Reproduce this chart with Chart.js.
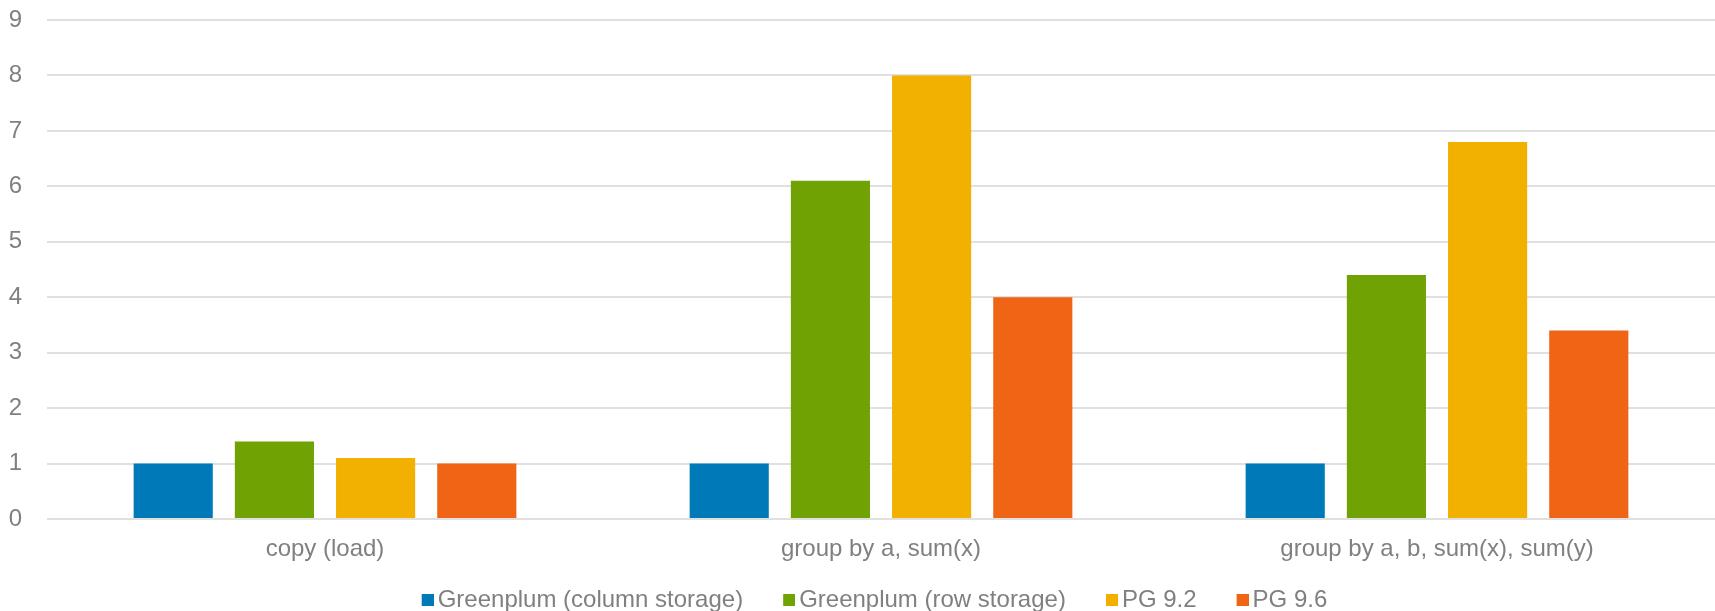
<!DOCTYPE html>
<html>
<head>
<meta charset="utf-8">
<script src="https://cdn.jsdelivr.net/npm/chart.js@4/dist/chart.umd.min.js"></script>
<style>
  html, body { margin: 0; padding: 0; background: #fff; }
  .container { width: 1715px; height: 611px; }
</style>
</head>
<body>
<div class="container"><canvas id="myChart"></canvas></div>
<script>
const categories = ['copy (load)', 'group by a, sum(x)', 'group by a, b, sum(x), sum(y)'];
const seriesNames = ['Greenplum (column storage)', 'Greenplum (row storage)', 'PG 9.2', 'PG 9.6'];
const colStorage = [1, 1, 1];
const rowStorage = [1.4, 6.1, 4.4];
const pg92 = [1.1, 8, 6.8];
const pg96 = [1, 4, 3.4];
const yTicks = [0, 1, 2, 3, 4, 5, 6, 7, 8, 9];

const colors = ['#0079B9', '#70A203', '#F2B000', '#EF6415'];
const textColor = '#808080';
const font = { family: 'Liberation Sans, Arial, sans-serif', size: 24 };

// legend marker: square sitting on the right side of a wider image,
// so it ends up close to the text like in the original
function marker(color) {
  const c = document.createElement('canvas');
  c.width = 28;
  c.height = 12;
  const g = c.getContext('2d');
  g.fillStyle = color;
  g.fillRect(16, 0, 12, 12);
  return c;
}
const markers = colors.map(marker);

const legendPlace = {
  id: 'legendPlace',
  afterLayout(chart) {
    const lg = chart.legend;
    const h = lg.bottom - lg.top;
    lg.left += 13;
    lg.right += 13;
    lg.top = 556;
    lg.bottom = 556 + h;
  }
};

new Chart(document.getElementById('myChart'), {
  type: 'bar',
  data: {
    labels: categories,
    datasets: [colStorage, rowStorage, pg92, pg96].map((d, i) => ({
      label: seriesNames[i],
      data: d,
      backgroundColor: colors[i],
      borderWidth: 0,
      categoryPercentage: 0.728,
      barPercentage: 0.782
    }))
  },
  options: {
    responsive: true,
    maintainAspectRatio: false,
    animation: false,
    layout: { padding: { top: 20, right: 0, left: 0, bottom: -18 } },
    scales: {
      x: {
        grid: { display: false },
        border: { display: false },
        ticks: { color: textColor, font: font, padding: 8 },
        afterFit(axis) { axis.height = 44; }
      },
      y: {
        min: 0,
        max: 9,
        afterBuildTicks(axis) { axis.ticks = yTicks.map(v => ({ value: v })); },
        grid: { color: '#E0E0E0', lineWidth: 2, drawTicks: false },
        border: { display: false },
        ticks: { color: textColor, font: font, padding: 25 },
        afterFit(axis) {
          axis.width = 47;
          axis.paddingTop = 0;
          axis.paddingBottom = 0;
        }
      }
    },
    plugins: {
      legend: {
        position: 'bottom',
        labels: {
          color: textColor,
          font: font,
          boxWidth: 12,
          boxHeight: 12,
          padding: 32,
          usePointStyle: true,
          generateLabels(chart) {
            const items = Chart.defaults.plugins.legend.labels.generateLabels(chart);
            items.forEach((it, i) => { it.pointStyle = markers[i]; });
            return items;
          }
        }
      },
      tooltip: { enabled: false }
    }
  },
  plugins: [legendPlace]
});
</script>
</body>
</html>
